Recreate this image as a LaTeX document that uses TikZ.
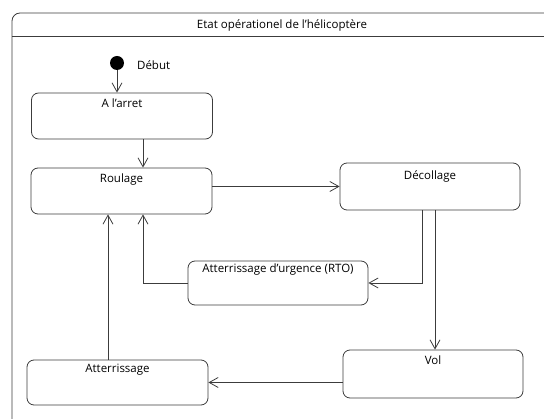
\documentclass[tikz,border=0pt]{standalone}
\usepackage{fontspec}
\setmainfont{Open Sans}
\usetikzlibrary{arrows.meta,positioning}
\definecolor{linegray}{RGB}{60,60,60}

\begin{document}
\begin{tikzpicture}[x=1pt,y=-1pt,font=\fontsize{11.5}{13}\selectfont,
  line width=0.8pt,draw=linegray,
  etat/.style={draw=linegray,rounded corners=7pt,minimum width=181pt,minimum height=46pt,inner sep=0pt},
  titre/.style={anchor=north,inner sep=0pt,yshift=-6pt},
  trans/.style={draw=linegray,-{Straight Barb[length=9pt,width=10pt,line width=0.8pt]}}]
\useasboundingbox (0,0) rectangle (544,419);
\clip (0,0) rectangle (544,419);
% cadre de l'etat composite
\draw[rounded corners=8pt] (12,440) -- (12,13) -- (560,13);
\draw (12,36) -- (560,36);
\node (cadre) at (282,25) {Etat opérationel de l'hélicoptère};
% etat initial
\node[circle,fill=black,minimum size=14pt,inner sep=0pt] (debut) at (117,63) {};
\node[right=9pt of debut,yshift=-2pt] (lbdebut) {Début};
% etats
\node[etat] (arret) at (122,116) {};
\node[titre] at (arret.north) {A l'arret};
\node[etat] (roulage) at (121.5,191) {};
\node[titre] at (roulage.north) {Roulage};
\node[etat,minimum width=180pt,minimum height=47pt] (decol) at (430,186.5) {};
\node[titre,yshift=-2pt] at (decol.north) {Décollage};
\node[etat,minimum width=180pt,minimum height=44pt] (rto) at (278,283) {};
\node[titre,yshift=3pt] at (rto.north) {Atterrissage d'urgence (RTO)};
\node[etat,minimum width=180pt,minimum height=48pt] (vol) at (433,374) {};
\node[titre] at (vol.north) {Vol};
\node[etat,minimum height=45pt] (atter) at (117.5,382.5) {};
\node[titre,yshift=2pt] at (atter.north) {Atterrissage};
% points de passage des transitions
\coordinate (xa) at (143,0);
\coordinate (xb) at (108,0);
\coordinate (xc) at (422,0);
\coordinate (xd) at (435,0);
% transitions
\draw[trans] (debut) -- (arret.north -| debut);
\draw[trans] (arret.south -| xa) -- (roulage.north -| xa);
\draw[trans] (roulage.east |- decol.west) -- (decol.west);
\draw[trans] (decol.south -| xc) |- (rto.east);
\draw[trans] (rto.west) -| (roulage.south -| xa);
\draw[trans] (decol.south -| xd) -- (vol.north -| xd);
\draw[trans] (vol.west |- atter.east) -- (atter.east);
\draw[trans] (atter.north -| xb) -- (roulage.south -| xb);
\end{tikzpicture}
\end{document}
